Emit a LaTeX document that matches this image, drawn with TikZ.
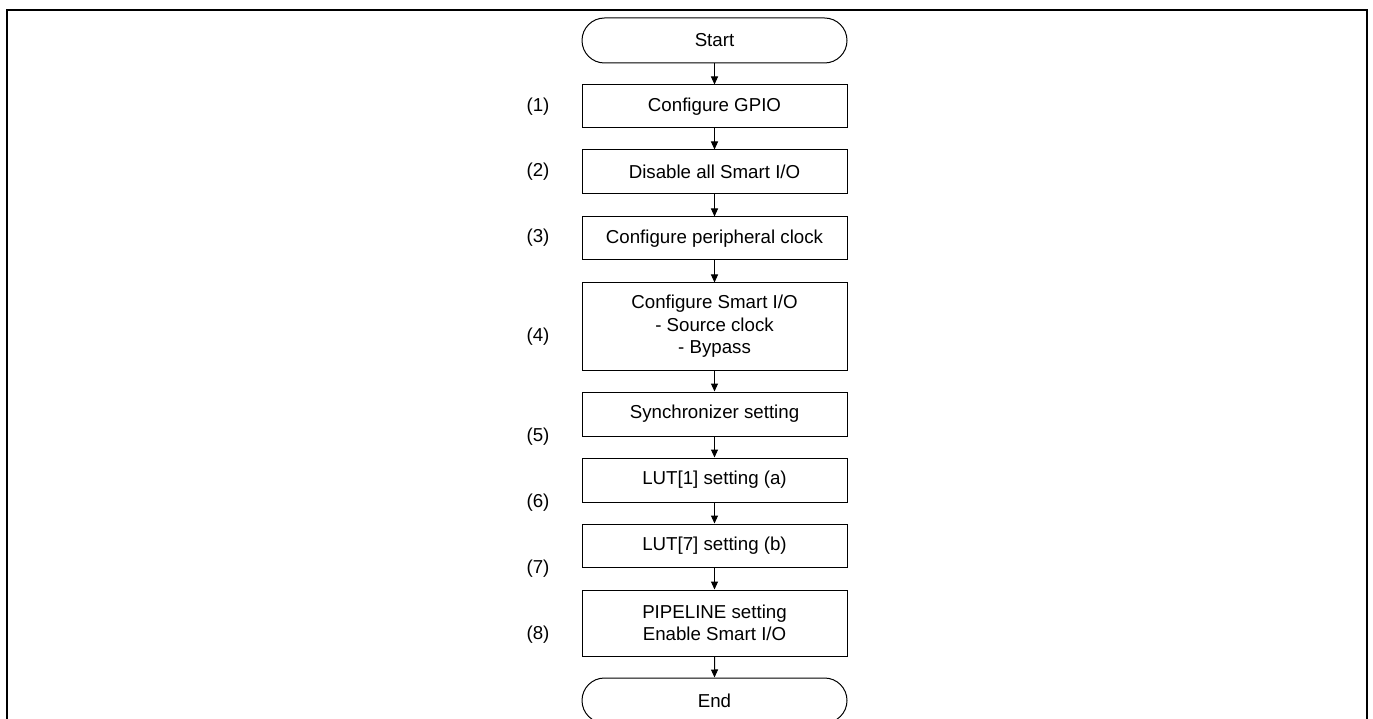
\documentclass[tikz,border=0pt]{standalone}
\usepackage{fontspec}
\setmainfont{Liberation Sans}
\usetikzlibrary{arrows.meta,shapes.misc}
\begin{document}
\begin{tikzpicture}[x=1pt,y=-1pt,
  every node/.style={font=\fontsize{18.7}{22.5}\selectfont, inner sep=0pt},
  stepbox/.style={draw, line width=1pt, minimum width=265pt, align=center},
  term/.style={draw, line width=1pt, rounded rectangle, minimum width=265pt, minimum height=45pt},
  tag/.style={anchor=center},
  flow/.style={line width=1pt, -{Triangle[length=8pt,width=7pt]}}]
  \useasboundingbox (0,0) rectangle (1373,719);
  \clip (0,0) rectangle (1373,719);
  % outer frame (open at the bottom edge)
  \draw[line width=2pt] (7,730) -- (7,10) -- (1367,10) -- (1367,730);

  % flow steps
  \node[term] (start) at (714.5,40.5) {Start};
  \node[stepbox, minimum height=43pt] (s1) at (714.5,106.5) {Configure GPIO};
  \node[stepbox, minimum height=44pt] (s2) at (714.5,172) {Disable all Smart I/O};
  \node[stepbox, minimum height=43pt] (s3) at (714.5,238.5) {Configure peripheral clock};
  \node[stepbox, minimum height=87pt] (s4) at (714.5,326.5) {Configure Smart I/O\\- Source clock\\- Bypass};
  \node[stepbox, minimum height=44pt] (s5) at (714.5,414) {Synchronizer setting};
  \node[stepbox, minimum height=44pt] (s6) at (714.5,480) {LUT[1] setting (a)};
  \node[stepbox, minimum height=43pt] (s7) at (714.5,545.5) {LUT[7] setting (b)};
  \node[stepbox, minimum height=66pt] (s8) at (714.5,623) {PIPELINE setting\\Enable Smart I/O};
  \node[term] (end) at (714.5,700.5) {End};

  % step numbers
  \node[tag] (n1) at (538,107) {(1)};
  \node[tag] (n2) at (538,172) {(2)};
  \node[tag] (n3) at (538,238) {(3)};
  \node[tag] (n4) at (538,337) {(4)};
  \node[tag] (n5) at (538,437) {(5)};
  \node[tag] (n6) at (538,503) {(6)};
  \node[tag] (n7) at (538,569) {(7)};
  \node[tag] (n8) at (538,635) {(8)};

  % connectors
  \draw[flow] (start) -- (s1);
  \draw[flow] (s1) -- (s2);
  \draw[flow] (s2) -- (s3);
  \draw[flow] (s3) -- (s4);
  \draw[flow] (s4) -- (s5);
  \draw[flow] (s5) -- (s6);
  \draw[flow] (s6) -- (s7);
  \draw[flow] (s7) -- (s8);
  \draw[flow] (s8) -- (end);
\end{tikzpicture}
\end{document}
